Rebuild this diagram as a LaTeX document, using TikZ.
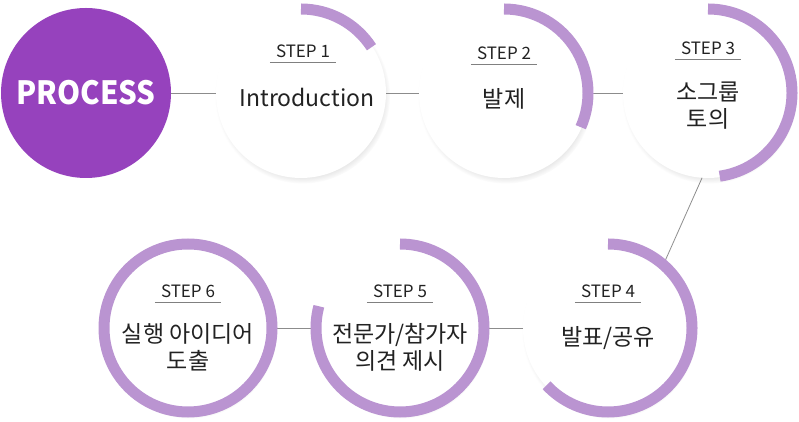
\documentclass[tikz,border=0pt]{standalone}
\usepackage{fontspec}
\setmainfont{Noto Sans CJK KR}
\usetikzlibrary{shadows,fadings}
\definecolor{procpurple}{HTML}{9642BD}
\definecolor{arcpurple}{HTML}{BA94D1}
\definecolor{linegray}{HTML}{8C8C8C}
\definecolor{textdark}{HTML}{222222}
\begin{document}
\begin{tikzpicture}[x=1pt,y=1pt,
    stepcircle/.style={circle,fill=white,minimum size=170pt,inner sep=0pt,outer sep=0pt,
        circular drop shadow={shadow scale=1.03,shadow xshift=1.5pt,shadow yshift=-3pt,opacity=.35}},
    steplbl/.style={anchor=base,inner xsep=6pt,text=textdark,font=\fontsize{17}{20}\selectfont},
    steptxt/.style={anchor=base,align=center,text=textdark,font=\fontsize{23}{27}\selectfont},
    ring/.style={arcpurple,line width=11pt},
    conn/.style={linegray,line width=0.8pt},
    uline/.style={gray,line width=0.8pt}]
    \useasboundingbox (0,0) rectangle (799,422);
    \node[circle,fill=procpurple,minimum size=170pt,inner sep=0pt,outer sep=0pt,text=white,
        font=\fontsize{32}{38}\selectfont\bfseries] (proc) at (86,329) {\scalebox{.92}[1]{PROCESS}};
    \node[stepcircle] (s1) at (301,329) {};%上面一排
    \node[stepcircle] (s2) at (504,329) {};
    \node[stepcircle] (s3) at (708,329) {};
    \node[stepcircle] (s4) at (608,94) {};%下面一排,从右往左
    \node[stepcircle] (s5) at (400,94) {};
    \node[stepcircle] (s6) at (188,94) {};
    \draw[conn] (proc) -- (s1);
    \draw[conn] (s1) -- (s2);
    \draw[conn] (s2) -- (s3);
    \draw[conn] (s3.-94) -- (s4.49);%斜线连到第二排
    \draw[conn] (s4) -- (s5);
    \draw[conn] (s5) -- (s6);
    \draw[ring] (s1.center) ++(90:84pt) arc[start angle=90,end angle=33,radius=84pt];%进度圆弧
    \draw[ring] (s2.center) ++(90:84pt) arc[start angle=90,end angle=-24,radius=84pt];
    \draw[ring] (s3.center) ++(90:84pt) arc[start angle=90,end angle=-82,radius=84pt];
    \draw[ring] (s4.center) ++(90:84pt) arc[start angle=90,end angle=-137,radius=84pt];
    \draw[ring] (s5.center) ++(90:84pt) arc[start angle=90,end angle=-195,radius=84pt];
    \draw[ring] (s6.center) circle[radius=84pt];
    \node[steplbl] (t1) at ([xshift=2pt,yshift=35pt]s1.center) {STEP 1};
    \draw[uline] ([yshift=-4pt]t1.base west) -- ([yshift=-4pt]t1.base east);
    \node[steptxt] (m1) at ([xshift=6pt,yshift=-14pt]s1.center) {Introduction};
    \node[steplbl] (t2) at ([yshift=33pt]s2.center) {STEP 2};
    \draw[uline] ([yshift=-4pt]t2.base west) -- ([yshift=-4pt]t2.base east);
    \node[steptxt] (m2) at ([yshift=-15pt]s2.center) {발제};
    \node[steplbl] (t3) at ([yshift=38pt]s3.center) {STEP 3};
    \draw[uline] ([yshift=-4pt]t3.base west) -- ([yshift=-4pt]t3.base east);
    \node[steptxt] (m3) at ([yshift=-35pt]s3.center) {소그룹\\토의};%基线在第二行
    \node[steplbl] (t4) at ([yshift=30pt]s4.center) {STEP 4};
    \draw[uline] ([yshift=-4pt]t4.base west) -- ([yshift=-4pt]t4.base east);
    \node[steptxt] (m4) at ([yshift=-18pt]s4.center) {발표/공유};
    \node[steplbl] (t5) at ([yshift=30pt]s5.center) {STEP 5};
    \draw[uline] ([yshift=-4pt]t5.base west) -- ([yshift=-4pt]t5.base east);
    \node[steptxt] (m5) at ([yshift=-42pt]s5.center) {전문가/참가자\\의견 제시};
    \node[steplbl] (t6) at ([yshift=30pt]s6.center) {STEP 6};
    \draw[uline] ([yshift=-4pt]t6.base west) -- ([yshift=-4pt]t6.base east);
    \node[steptxt] (m6) at ([yshift=-42pt]s6.center) {실행 아이디어\\도출};
\end{tikzpicture}
\end{document}
